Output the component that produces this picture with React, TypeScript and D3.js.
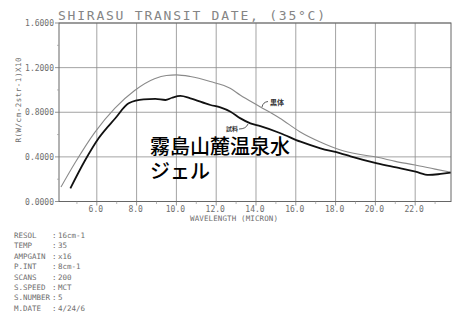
import React from "react";
import * as d3 from "d3";

const titleText = "SHIRASU TRANSIT DATE, (35°C)";
const yAxisLabel = "R(W/cm-2str-1)X10";
const xAxisLabel = "WAVELENGTH (MICRON)";
const yTicks = [0, 0.4, 0.8, 1.2, 1.6];
const yMinorTicks = [0.2, 0.6, 1.0, 1.4];
const xTicks = [6, 8, 10, 12, 14, 16, 18, 20, 22];
const xMinorTicks = [5, 7, 9, 11, 13, 15, 17, 19, 21, 23];

// 黒体 (blackbody) curve
const blackbodyW = [4.2, 4.9, 5.9, 6.9, 7.9, 8.9, 9.5, 10.0, 10.7, 11.7, 12.7, 13.2, 14.2, 15.2, 16.2, 17.2, 18.25, 19.1, 20.1, 21.0, 22.0, 23.0, 23.8];
const blackbodyR = [0.13, 0.345, 0.62, 0.835, 0.995, 1.1, 1.13, 1.135, 1.12, 1.075, 1.015, 0.955, 0.85, 0.747, 0.626, 0.536, 0.462, 0.425, 0.396, 0.36, 0.327, 0.29, 0.262];

// 試料 (sample) curve
const sampleW = [4.67, 5.42, 6.09, 6.93, 7.6, 8.35, 8.94, 9.45, 9.78, 10.2, 10.7, 11.71, 12.21, 12.72, 13.22, 13.72, 14.22, 15.23, 16.24, 17.24, 18.25, 18.75, 20.09, 21.27, 22.02, 22.69, 23.28, 23.78];
const sampleR = [0.118, 0.372, 0.567, 0.746, 0.88, 0.916, 0.919, 0.91, 0.93, 0.946, 0.925, 0.865, 0.844, 0.805, 0.745, 0.7, 0.675, 0.612, 0.536, 0.477, 0.432, 0.405, 0.342, 0.298, 0.267, 0.238, 0.247, 0.258];

const infoLabels = ["RESOL", "TEMP", "AMPGAIN", "P.INT", "SCANS", "S.SPEED", "S.NUMBER", "M.DATE"];
const infoValues = ["16cm-1", "35", "x16", "8cm-1", "200", "MCT", "5", "4/24/6"];

const overlayLines = ["霧島山麓温泉水", "ジェル"];

export default function App() {
  const W = 465, H = 312;
  const L = 59, R = 451, T = 23, B = 201.5;
  const x = d3.scaleLinear().domain([4.1, 23.8]).range([L, R]);
  const y = d3.scaleLinear().domain([0, 1.6]).range([B, T]);
  const line = d3.line<[number, number]>().x(d => x(d[0])).y(d => y(d[1])).curve(d3.curveMonotoneX);
  const bb = blackbodyW.map((w, i) => [w, blackbodyR[i]] as [number, number]);
  const sm = sampleW.map((w, i) => [w, sampleR[i]] as [number, number]);
  const mono = "'DejaVu Sans Mono', 'Liberation Mono', monospace";
  const tc = "#6e6e6e";
  return (
    <svg width={W} height={H} style={{ position: "absolute", left: 0, top: 0, background: "#fff" }}>
      <text x={58} y={19.5} fontFamily={mono} fontSize={13} fill="#858585" textLength={267} lengthAdjust="spacing">{titleText}</text>
      {/* grid */}
      {xTicks.map(t => (
        <line key={"gx" + t} x1={x(t)} x2={x(t)} y1={T} y2={B} stroke="#8c8c8c" strokeWidth={0.8} />
      ))}
      {yTicks.map(t => (
        <line key={"gy" + t} x1={L} x2={R} y1={y(t)} y2={y(t)} stroke="#8c8c8c" strokeWidth={0.8} />
      ))}
      <rect x={L} y={T} width={R - L} height={B - T} fill="none" stroke="#666" strokeWidth={1} />
      {/* ticks */}
      {yTicks.map(t => (
        <line key={"ty" + t} x1={L - 4} x2={L} y1={y(t)} y2={y(t)} stroke="#777" strokeWidth={0.8} />
      ))}
      {yMinorTicks.map(t => (
        <line key={"tym" + t} x1={L - 2} x2={L} y1={y(t)} y2={y(t)} stroke="#999" strokeWidth={0.7} />
      ))}
      {xTicks.map(t => (
        <line key={"tx" + t} x1={x(t)} x2={x(t)} y1={B} y2={B + 4} stroke="#777" strokeWidth={0.8} />
      ))}
      {xMinorTicks.map(t => (
        <line key={"txm" + t} x1={x(t)} x2={x(t)} y1={B} y2={B + 2.5} stroke="#999" strokeWidth={0.7} />
      ))}
      {yTicks.map(t => (
        <text key={"ly" + t} x={54} y={y(t) + 3} textAnchor="end" fontFamily={mono} fontSize={8} fill={tc}>{t.toFixed(4)}</text>
      ))}
      {xTicks.map(t => (
        <text key={"lx" + t} x={x(t) - 1} y={212} textAnchor="middle" fontFamily={mono} fontSize={8} fill={tc}>{t.toFixed(1)}</text>
      ))}
      <text x={234} y={220.5} textAnchor="middle" fontFamily={mono} fontSize={7.5} fill={tc} textLength={88} lengthAdjust="spacing">{xAxisLabel}</text>
      <text transform={`translate(21,100) rotate(-90)`} textAnchor="middle" fontFamily={mono} fontSize={7.5} fill={tc} textLength={85} lengthAdjust="spacing">{yAxisLabel}</text>
      {/* curves */}
      <path d={line(bb) || ""} fill="none" stroke="#8a8a8a" strokeWidth={1.1} />
      <path d={line(sm) || ""} fill="none" stroke="#111" strokeWidth={1.8} />
      {/* annotations */}
      <path d="M262,107 Q263,102 268,101.5" fill="none" stroke="#333" strokeWidth={0.8} />
      <text x={270} y={104.5} fontFamily="'Noto Sans CJK JP', sans-serif" fontSize={7} fontWeight={700} fill="#333">黒体</text>
      <path d="M239,129 Q246,129 248,124" fill="none" stroke="#333" strokeWidth={0.8} />
      <text x={226} y={131} fontFamily="'Noto Sans CJK JP', sans-serif" fontSize={6} fontWeight={700} fill="#333">試料</text>
      {overlayLines.map((s, i) => (
        <text key={s} x={150} y={154 + i * 25} fontFamily="'Noto Sans CJK JP', sans-serif" fontSize={20} fontWeight={500} fill="#000">{s}</text>
      ))}
      {/* info block */}
      {infoLabels.map((s, i) => (
        <g key={s}>
          <text x={14} y={238 + i * 10.4} fontFamily={mono} fontSize={7.5} fill={tc}>{s}</text>
          <text x={52} y={238 + i * 10.4} fontFamily={mono} fontSize={7.5} fill={tc}>:</text>
          <text x={58} y={238 + i * 10.4} fontFamily={mono} fontSize={7.5} fill={tc}>{infoValues[i]}</text>
        </g>
      ))}
    </svg>
  );
}
